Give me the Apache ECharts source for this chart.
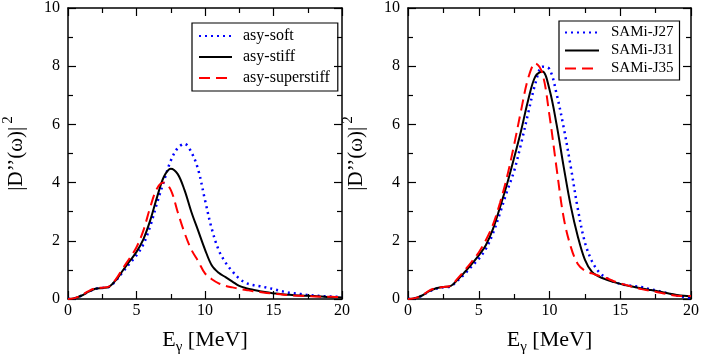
<!DOCTYPE html>
<html>
<head>
<meta charset="utf-8">
<script src="https://cdn.jsdelivr.net/npm/echarts@6/dist/echarts.min.js"></script>
<style>
    html, body { margin: 0; padding: 0; background: #fff; }
    #chart { width: 702px; height: 360px; }
</style>
</head>
<body>
<div id="chart"></div>
<script>
// 数据
var energy = [0,0.5,1,1.5,2,2.5,3,3.5,4,4.5,5,5.5,6,6.5,7,7.5,8,8.5,9,9.5,10,
    10.5,11,11.5,12,12.5,13,13.5,14,14.5,15,15.5,16,16.5,17,17.5,18,18.5,19,19.5,20];

// left panel
var asySoft = [0,0.03,0.12,0.25,0.35,0.38,0.42,0.63,0.93,1.22,1.5,1.88,2.5,3.3,4.05,4.75,5.18,5.33,5.05,4.45,3.4,
    2.4,1.68,1.25,0.95,0.7,0.55,0.48,0.44,0.39,0.34,0.28,0.23,0.2,0.17,0.14,0.12,0.1,0.09,0.08,0.07];
var asyStiff = [0,0.03,0.12,0.25,0.35,0.38,0.42,0.65,0.98,1.3,1.62,2.05,2.7,3.5,4.2,4.48,4.3,3.75,3.0,2.35,1.7,
    1.15,0.9,0.75,0.6,0.45,0.37,0.32,0.27,0.23,0.2,0.17,0.15,0.13,0.12,0.11,0.1,0.09,0.07,0.06,0.05];
var asySuperstiff = [0,0.03,0.13,0.27,0.37,0.39,0.43,0.68,1.05,1.4,1.78,2.35,3.15,3.8,4.0,3.75,3.0,2.28,1.7,1.3,0.88,
    0.68,0.54,0.45,0.4,0.35,0.31,0.27,0.24,0.21,0.18,0.16,0.14,0.12,0.11,0.1,0.09,0.08,0.08,0.07,0.07];

// right panel
var samiJ27 = [0,0.03,0.12,0.26,0.36,0.4,0.43,0.63,0.86,1.12,1.38,1.72,2.25,2.95,3.7,4.4,5.35,6.4,7.4,7.98,7.9,
    7.05,5.9,4.55,3.1,1.95,1.3,0.92,0.73,0.6,0.52,0.47,0.44,0.41,0.35,0.3,0.24,0.18,0.12,0.07,0.03];
var samiJ31 = [0,0.03,0.12,0.27,0.37,0.41,0.44,0.66,0.92,1.2,1.5,1.85,2.4,3.15,3.95,4.85,5.8,6.85,7.65,7.82,7.2,
    6.0,4.55,3.2,2.15,1.35,0.93,0.77,0.67,0.59,0.52,0.46,0.41,0.36,0.32,0.28,0.23,0.18,0.14,0.11,0.09];
var samiJ35 = [0,0.03,0.13,0.29,0.38,0.41,0.45,0.7,0.98,1.28,1.6,2.02,2.55,3.3,4.2,5.3,6.5,7.6,8.1,7.75,6.3,
    4.5,2.8,1.8,1.2,0.97,0.88,0.8,0.72,0.62,0.54,0.47,0.4,0.34,0.29,0.25,0.2,0.15,0.11,0.1,0.1];

var xTicks = [0, 5, 10, 15, 20];
var yTicks = [0, 2, 4, 6, 8, 10];

var font = 'Liberation Serif';

function pairs(ys) {
    return energy.map(function (x, i) { return [x, ys[i]]; });
}

function xAxisFor(gridIndex, bottom) {
    return {
        type: 'value', gridIndex: gridIndex, min: xTicks[0], max: xTicks[xTicks.length - 1], interval: 5,
        position: bottom ? 'bottom' : 'top',
        name: bottom ? '{a|E}{s|γ}{a| [MeV]}' : '',
        nameLocation: 'middle', nameGap: 27,
        nameTextStyle: {
            rich: {
                a: { fontFamily: font, fontSize: 22, color: '#000' },
                s: { fontFamily: font, fontSize: 15, color: '#000', padding: [14, 0, 0, 0] }
            }
        },
        axisLine: { show: true, onZero: false, lineStyle: { color: '#000', width: 1.5 } },
        axisTick: { show: true, inside: true, length: 8, lineStyle: { color: '#000', width: 1.2 } },
        minorTick: { show: true, splitNumber: 2, length: 5, lineStyle: { color: '#000', width: 1.2 } },
        axisLabel: { show: bottom, color: '#000', fontFamily: font, fontSize: 16, margin: 4 },
        splitLine: { show: false }
    };
}

function yAxisFor(gridIndex, left) {
    return {
        type: 'value', gridIndex: gridIndex, min: yTicks[0], max: yTicks[yTicks.length - 1], interval: 2,
        position: left ? 'left' : 'right',
        name: left ? '{a|\u007cD\u2019\u2019(ω)\u007c}{p|2}' : '',
        nameLocation: 'middle', nameGap: 36, nameRotate: 90,
        nameTextStyle: {
            rich: {
                a: { fontFamily: font, fontSize: 21, color: '#000' },
                p: { fontFamily: font, fontSize: 15, color: '#000', padding: [0, 0, 16, 3] }
            }
        },
        axisLine: { show: true, onZero: false, lineStyle: { color: '#000', width: 1.5 } },
        axisTick: { show: true, inside: true, length: 8, lineStyle: { color: '#000', width: 1.2 } },
        minorTick: { show: true, splitNumber: 2, length: 5, lineStyle: { color: '#000', width: 1.2 } },
        axisLabel: { show: left, color: '#000', fontFamily: font, fontSize: 16, margin: 8 },
        splitLine: { show: false }
    };
}

function curve(name, ys, idx, color, type) {
    return {
        name: name, type: 'line', xAxisIndex: idx * 2, yAxisIndex: idx * 2,
        data: pairs(ys), smooth: 0.35, symbol: 'none',
        lineStyle: { color: color, width: type === 'dotted' ? 2.5 : 2, type: type === 'dashed' ? [11, 6] : (type === 'dotted' ? [2, 4] : 'solid') },
        itemStyle: { color: color }
    };
}

var myChart = echarts.init(document.getElementById('chart'));

myChart.setOption({
    animation: false,
    grid: [
        { left: 57, top: 8, width: 285, height: 300 },
        { left: 408, top: 8, width: 283, height: 300 }
    ],
    xAxis: [xAxisFor(0, true), xAxisFor(0, false), xAxisFor(1, true), xAxisFor(1, false)],
    yAxis: [yAxisFor(0, true), yAxisFor(0, false), yAxisFor(1, true), yAxisFor(1, false)],
    legend: [
        {
            data: ['asy-soft', 'asy-stiff', 'asy-superstiff'],
            orient: 'vertical', left: 192, top: 23, itemWidth: 33, itemHeight: 14, itemGap: 5,
            padding: [5, 8, 5, 6], borderColor: '#000', borderWidth: 1.2,
            itemStyle: { opacity: 0 },
            textStyle: { fontFamily: font, fontSize: 16, color: '#000', padding: [0, 0, 0, 6] }
        },
        {
            data: ['SAMi-J27', 'SAMi-J31', 'SAMi-J35'],
            orient: 'vertical', left: 559, top: 21, itemWidth: 34, itemHeight: 14, itemGap: 3,
            padding: [4, 6, 4, 5], borderColor: '#000', borderWidth: 1.2,
            itemStyle: { opacity: 0 },
            textStyle: { fontFamily: font, fontSize: 15, color: '#000', padding: [0, 0, 0, 7] }
        }
    ],
    series: [
        curve('asy-soft', asySoft, 0, '#0000ff', 'dotted'),
        curve('asy-stiff', asyStiff, 0, '#000000', 'solid'),
        curve('asy-superstiff', asySuperstiff, 0, '#ff0000', 'dashed'),
        curve('SAMi-J27', samiJ27, 1, '#0000ff', 'dotted'),
        curve('SAMi-J31', samiJ31, 1, '#000000', 'solid'),
        curve('SAMi-J35', samiJ35, 1, '#ff0000', 'dashed')
    ]
});
</script>
</body>
</html>
